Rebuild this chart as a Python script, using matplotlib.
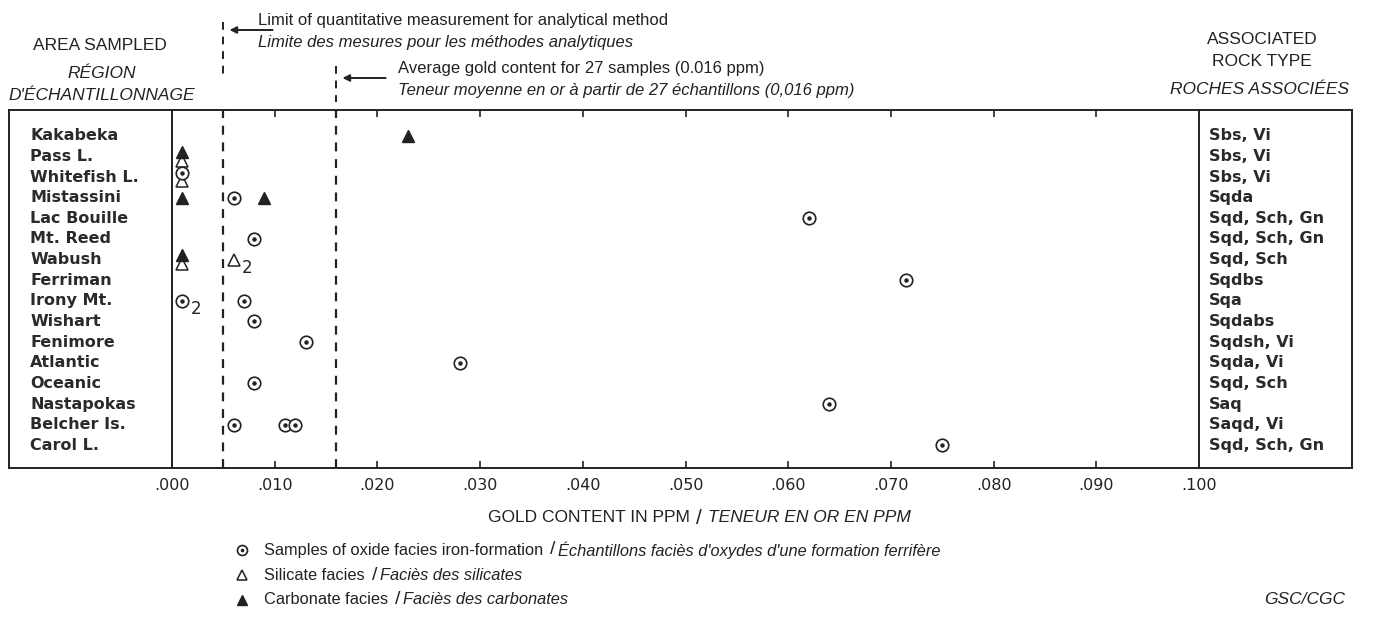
#!/usr/bin/env python3

# Gold content of iron-formation samples, by area sampled.

import matplotlib.pyplot as plt
from matplotlib.lines import Line2D
from matplotlib.transforms import blended_transform_factory

areas = ["Kakabeka", "Pass L.", "Whitefish L.", "Mistassini", "Lac Bouille",
         "Mt. Reed", "Wabush", "Ferriman", "Irony Mt.", "Wishart", "Fenimore",
         "Atlantic", "Oceanic", "Nastapokas", "Belcher Is.", "Carol L."]
rock_types = ["Sbs, Vi", "Sbs, Vi", "Sbs, Vi", "Sqda", "Sqd, Sch, Gn",
              "Sqd, Sch, Gn", "Sqd, Sch", "Sqdbs", "Sqa", "Sqdabs", "Sqdsh, Vi",
              "Sqda, Vi", "Sqd, Sch", "Saq", "Saqd, Vi", "Sqd, Sch, Gn"]

# oxide facies (circle with dot)
oxide_area = ["Whitefish L.", "Mistassini", "Lac Bouille", "Mt. Reed", "Ferriman",
              "Irony Mt.", "Irony Mt.", "Wishart", "Fenimore", "Atlantic", "Oceanic",
              "Nastapokas", "Belcher Is.", "Belcher Is.", "Belcher Is.", "Carol L."]
oxide_ppm = [0.001, 0.006, 0.062, 0.008, 0.0715,
             0.001, 0.007, 0.008, 0.013, 0.028, 0.008,
             0.064, 0.006, 0.011, 0.012, 0.075]
oxide_n = [1, 1, 1, 1, 1, 2, 1, 1, 1, 1, 1, 1, 1, 1, 1, 1]

# silicate facies (open triangle)
silicate_area = ["Pass L.", "Whitefish L.", "Wabush", "Wabush"]
silicate_ppm = [0.001, 0.001, 0.001, 0.006]
silicate_n = [1, 1, 1, 2]

# carbonate facies (filled triangle)
carbonate_area = ["Kakabeka", "Pass L.", "Mistassini", "Mistassini", "Wabush"]
carbonate_ppm = [0.023, 0.001, 0.001, 0.009, 0.001]

LIMIT = 0.005
AVERAGE = 0.016
W, H = 1380, 621


def px(x, y):
    return x / W, 1 - y / H


NARROW = ["Liberation Sans Narrow", "Liberation Sans", "DejaVu Sans"]
INK = "#222222"
ROWFONT = dict(family="DejaVu Sans", fontsize=11.5, fontweight="bold", color="#2a2a2a")

fig = plt.figure(figsize=(13.8, 6.21), dpi=100)
ax_left = fig.add_axes([9 / W, 1 - 468 / H, 163 / W, 358 / H])
ax = fig.add_axes([172 / W, 1 - 468 / H, 1027 / W, 358 / H], sharey=ax_left)
ax_right = fig.add_axes([1199 / W, 1 - 468 / H, 153 / W, 358 / H], sharey=ax_left)

rows = {a: i for i, a in enumerate(areas)}
ax.set_ylim(len(areas) + 0.1, -1.25)
ax.set_xlim(0, 0.1)

for a in (ax_left, ax, ax_right):
    for s in a.spines.values():
        s.set_linewidth(1.4)
        s.set_color(INK)
ax_left.set_xticks([])
ax_left.tick_params(left=False, labelleft=False)
ax_right.set_xticks([])
ax_right.tick_params(left=False, labelleft=False)
ax_left.set_xlim(0, 1)
ax_right.set_xlim(0, 1)

for i, (name, rock) in enumerate(zip(areas, rock_types)):
    ax_left.text(0.13, i, name, va="center", ha="left", **ROWFONT)
    ax_right.text(0.065, i, rock, va="center", ha="left", **ROWFONT)

# x axis
xt = [i / 100 for i in range(11)]
ax.set_xticks(xt)
ax.set_xticklabels([f"{v:.3f}".lstrip("0") for v in xt], fontsize=11.5,
                   family="DejaVu Sans", color=INK)
ax.tick_params(axis="x", direction="in", top=True, length=5, width=1.2,
               pad=7, color=INK)
ax.tick_params(axis="y", left=False, labelleft=False)

# dashed reference lines
dash = (0, (4, 3.5))
ax.axvline(LIMIT, color=INK, lw=1.6, ls=dash)
ax.axvline(AVERAGE, color=INK, lw=1.6, ls=dash)
btr = blended_transform_factory(ax.transData, fig.transFigure)
for xv, y0, y1 in [(LIMIT, 22, 78), (AVERAGE, 66, 102)]:
    fig.add_artist(Line2D([xv, xv], [1 - y0 / H, 1 - y1 / H], transform=btr,
                          color=INK, lw=1.4, ls=dash))
for xv, y, x_txt, top, bottom in [
        (LIMIT, 30, 258, "Limit of quantitative measurement for analytical method",
         "Limite des mesures pour les méthodes analytiques"),
        (AVERAGE, 78, 398, "Average gold content for 27 samples (0.016 ppm)",
         "Teneur moyenne en or à partir de 27 échantillons (0,016 ppm)")]:
    ax.annotate("", xy=(xv + 0.0006, 1 - y / H), xycoords=btr,
                xytext=(xv + 0.0048, 1 - y / H), textcoords=btr,
                arrowprops=dict(arrowstyle="-|>", color=INK, lw=1.4,
                                mutation_scale=10, shrinkA=0, shrinkB=0))
    fig.text(*px(x_txt, y - 10), top, family=NARROW, fontsize=12,
             va="center", ha="left", color=INK)
    fig.text(*px(x_txt, y + 12), bottom, family=NARROW, fontsize=12,
             style="italic", va="center", ha="left", color=INK)

# column headers
fig.text(*px(100, 45), "AREA SAMPLED", family=NARROW, fontsize=12.5,
         ha="center", va="center", color=INK)
fig.text(*px(102, 73), "RÉGION", family=NARROW, fontsize=12.5, style="italic",
         ha="center", va="center", color=INK)
fig.text(*px(102, 95), "D'ÉCHANTILLONNAGE", family=NARROW, fontsize=12.5,
         style="italic", ha="center", va="center", color=INK)
fig.text(*px(1262, 40), "ASSOCIATED", family=NARROW, fontsize=12.5,
         ha="center", va="center", color=INK)
fig.text(*px(1262, 62), "ROCK TYPE", family=NARROW, fontsize=12.5,
         ha="center", va="center", color=INK)
fig.text(*px(1260, 90), "ROCHES ASSOCIÉES", family=NARROW, fontsize=12.5,
         style="italic", ha="center", va="center", color=INK)


# points: at the detection floor, two facies in one row are stacked
def stack_offsets(area_list, ppm_list, is_silicate):
    out = []
    for a, v in zip(area_list, ppm_list):
        shared = v == 0.001 and sum(
            1 for lst_a, lst_v in [(oxide_area, oxide_ppm), (silicate_area, silicate_ppm),
                                   (carbonate_area, carbonate_ppm)]
            for aa, vv in zip(lst_a, lst_v) if aa == a and vv == v) > 1
        off = (0.2 if is_silicate else -0.2) if shared else 0.0
        out.append(rows[a] + off)
    return out


oy = stack_offsets(oxide_area, oxide_ppm, False)
sy = stack_offsets(silicate_area, silicate_ppm, True)
cy = stack_offsets(carbonate_area, carbonate_ppm, False)

circ = dict(ls="none", marker="o", ms=9, mfc="white", mec=INK, mew=1.2)
dot = dict(ls="none", marker="o", ms=3.2, mfc=INK, mec=INK, mew=0)
open_tri = dict(ls="none", marker="^", ms=8.5, mfc="white", mec=INK, mew=1.1)
full_tri = dict(ls="none", marker="^", ms=8.5, mfc=INK, mec=INK, mew=1)

ax.plot(silicate_ppm, sy, clip_on=False, zorder=3, **open_tri)
ax.plot(oxide_ppm, oy, clip_on=False, zorder=4, **circ)
ax.plot(oxide_ppm, oy, clip_on=False, zorder=5, **dot)
ax.plot(carbonate_ppm, cy, clip_on=False, zorder=6, **full_tri)

for xs, ys, ns in [(oxide_ppm, oy, oxide_n), (silicate_ppm, sy, silicate_n)]:
    for xv, yv, n in zip(xs, ys, ns):
        if n > 1:
            ax.annotate(str(n), (xv, yv), xytext=(6, -6), textcoords="offset points",
                        fontsize=12, family="DejaVu Sans", color=INK,
                        ha="left", va="center")

# axis title
fig.text(*px(690, 518), "GOLD CONTENT IN PPM", family=NARROW, fontsize=12.5,
         ha="right", va="center", color=INK)
fig.text(*px(699, 518), "/", family=NARROW, fontsize=15,
         ha="center", va="center", color=INK)
fig.text(*px(708, 518), "TENEUR EN OR EN PPM", family=NARROW, fontsize=12.5,
         style="italic", ha="left", va="center", color=INK)

# legend
leg_x = 242
leg_items = [
    (circ, "Samples of oxide facies iron-formation",
     "Échantillons faciès d'oxydes d'une formation ferrifère", 550),
    (open_tri, "Silicate facies", "Faciès des silicates", 575),
    (full_tri, "Carbonate facies", "Faciès des carbonates", 600),
]
for style, en, fr, y in leg_items:
    small = dict(style)
    small["ms"] = style["ms"] * 0.8
    fig.add_artist(Line2D([leg_x / W], [1 - y / H], transform=fig.transFigure, **small))
    if style is circ:
        d = dict(dot)
        d["ms"] = 2.6
        fig.add_artist(Line2D([leg_x / W], [1 - y / H], transform=fig.transFigure, **d))
    a = fig.text(*px(leg_x + 22, y), en, family=NARROW, fontsize=11.8,
                 ha="left", va="center", color=INK)
    b = ax.annotate("/", xy=(1, 0.5), xycoords=a, xytext=(7, 0),
                    textcoords="offset points", family=NARROW, fontsize=14,
                    ha="center", va="center", color=INK, annotation_clip=False)
    ax.annotate(fr, xy=(1, 0.5), xycoords=b, xytext=(2, 0),
                textcoords="offset points", family=NARROW, fontsize=11.8,
                style="italic", ha="left", va="center", color=INK,
                annotation_clip=False)

fig.text(*px(1345, 600), "GSC/CGC", family=NARROW, fontsize=12.5, style="italic",
         ha="right", va="center", color=INK)

plt.savefig("out.png", dpi=100)
plt.close()
